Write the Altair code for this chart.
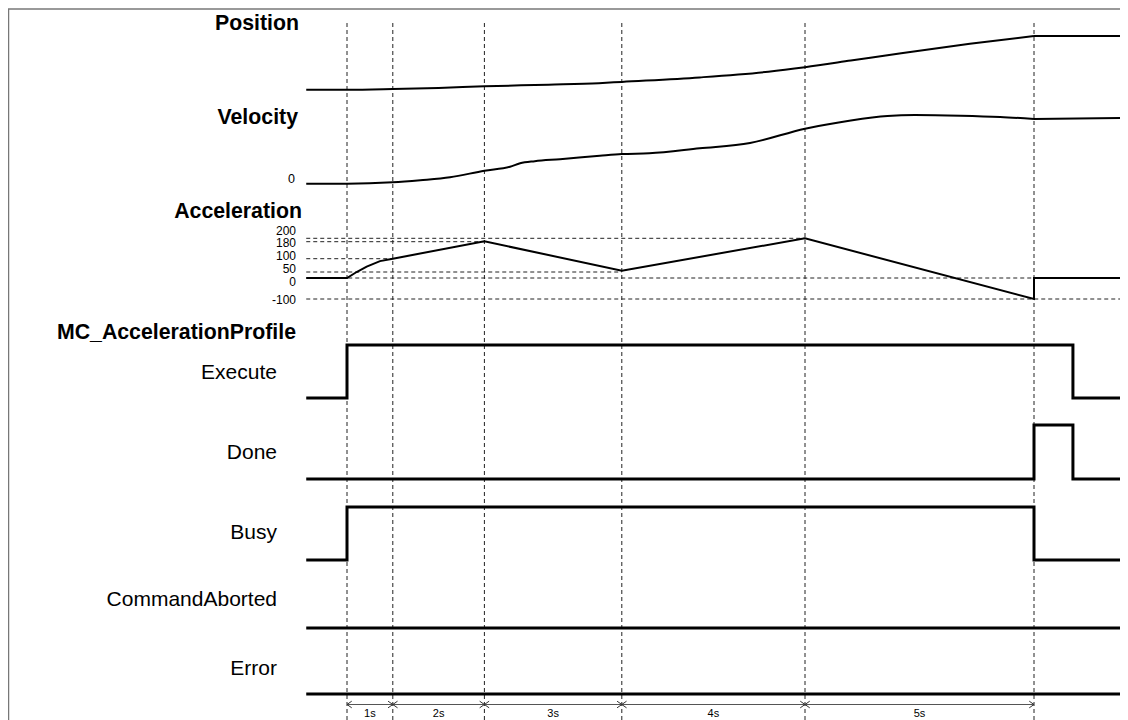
import altair as alt
import pandas as pd

# ---------------- data ----------------
T_START = -0.89
T_END = 17.05

time_marks = [0, 1, 3, 6, 10, 15]
interval_labels = ["1s", "2s", "3s", "4s", "5s"]

pos_t = [T_START, 0, 1.0, 2.0, 3.0, 4.4, 5.5, 6.0, 7.7, 9.2, 10.0, 11.0, 12.1, 13.6, 15.0, T_END]
pos_v = [0, 0, 0.7, 1.8, 3.4, 5.0, 6.5, 7.8, 12.3, 18.0, 22.5, 29.1, 36.5, 45.9, 53.7, 53.7]

vel_t = [T_START, 0, 1.0, 1.6, 2.25, 3.0, 3.56, 3.78, 4.1, 4.65, 5.52, 6.0, 6.6, 7.7,
         8.8, 10.0, 11.0, 11.8, 12.4, 13.4, 14.26, 15.0, T_END]
vel_v = [0, 0, 1.4, 3.5, 6.4, 13, 17, 20.4, 22.5, 24.5, 28, 29.7, 30.4, 35.4,
         40.7, 55, 63.2, 67.7, 68.7, 68, 66.7, 64.7, 65.7]

acc_t = [T_START, 0, 0.21, 0.43, 0.72, 1, 3, 6, 10, 15, 15, T_END]
acc_v = [0, 0, 50, 70, 91, 100, 182, 55, 200, -100, 0, 0]

acc_ticks = [200, 180, 100, 50, 0, -100]
acc_tick_end = [10, 3, 1, 6, T_END, T_END]

signal_names = ["Execute", "Done", "Busy", "CommandAborted", "Error"]
exec_t, exec_v = [T_START, 0, 15.85, T_END], [0, 1, 0, 0]
done_t, done_v = [T_START, 15, 15.85, T_END], [0, 1, 0, 0]
busy_t, busy_v = [T_START, 0, 15, T_END], [0, 1, 0, 0]
abort_t, abort_v = [T_START, T_END], [0, 0]
error_t, error_v = [T_START, T_END], [0, 0]

section_titles = ["Position", "Velocity", "Acceleration", "MC_AccelerationProfile"]

# ---------------- layout / style ----------------
FONT = "Liberation Sans"
W, H = 1112, 712
XS = alt.Scale(domain=[0, 15], range=[339, 1026], nice=False, zero=False)
DASH = [4, 3]
T_DONE = 15  # end of the motion: curves turn flat here

def X(field="t"):
    return alt.X(f"{field}:Q", scale=XS, axis=None)

def line_layer(df, domain, rng, width, interp="linear"):
    return alt.Chart(df).mark_line(color="black", strokeWidth=width, interpolate=interp,
                                   strokeJoin="miter", strokeCap="butt").encode(
        x=X(),
        y=alt.Y("v:Q", scale=alt.Scale(domain=domain, range=rng, nice=False, zero=False), axis=None),
        order=alt.Order("i:Q"),
    )

def series(ts, vs):
    return pd.DataFrame({"t": ts, "v": vs, "i": list(range(len(ts)))})

def smooth_layers(ts, vs, domain, rng, width):
    df = series(ts, vs)
    moving = df[df.t <= T_DONE]
    after = df[df.t >= T_DONE]
    return [line_layer(moving, domain, rng, width, interp="monotone"),
            line_layer(after, domain, rng, width)]

def text_layer(txt, x, y, size, bold=False, align="right", baseline="middle"):
    return alt.Chart(pd.DataFrame({"label": [txt]})).mark_text(
        font=FONT, fontSize=size, fontWeight="bold" if bold else "normal",
        align=align, baseline=baseline, color="black",
    ).encode(text="label:N", x=alt.value(x), y=alt.value(y))

layers = []

# frame (top and left edges only, as in the original)
frame = pd.DataFrame({"k": [0]})
layers.append(alt.Chart(frame).mark_rule(color="#777", strokeWidth=1.5).encode(
    x=alt.value(0), x2=alt.value(W), y=alt.value(1)))
layers.append(alt.Chart(frame).mark_rule(color="#777", strokeWidth=1.5).encode(
    x=alt.value(0.5), y=alt.value(1), y2=alt.value(H)))

# vertical dashed time markers
layers.append(
    alt.Chart(pd.DataFrame({"t": time_marks})).mark_rule(
        color="#222", strokeWidth=1, strokeDash=DASH).encode(
        x=X(), y=alt.value(15), y2=alt.value(H))
)

# acceleration dashed reference levels
ACC_DOMAIN = [-100, 0, 50, 100, 180, 200]
ACC_RANGE = [291, 270, 264, 250.7, 233.7, 230.3]
layers.append(
    alt.Chart(pd.DataFrame({"lvl": acc_ticks, "t0": [T_START] * len(acc_ticks), "t1": acc_tick_end}))
    .mark_rule(color="#222", strokeWidth=1, strokeDash=DASH)
    .encode(
        x=X("t0"), x2=alt.X2("t1:Q"),
        y=alt.Y("lvl:Q", scale=alt.Scale(domain=ACC_DOMAIN, range=ACC_RANGE, nice=False, zero=False), axis=None),
    )
)

# analog curves
layers += smooth_layers(pos_t, pos_v, [0, 54], [81.7, 27.7], 2)
layers += smooth_layers(vel_t, vel_v, [0, 70], [175.7, 105.7], 2)
layers.append(line_layer(series(acc_t, acc_v), ACC_DOMAIN, ACC_RANGE, 2))

# digital signals
lanes = {
    "Execute": (exec_t, exec_v, [390, 337]),
    "Done": (done_t, done_v, [471, 417]),
    "Busy": (busy_t, busy_v, [552, 499]),
    "CommandAborted": (abort_t, abort_v, [620, 567]),
    "Error": (error_t, error_v, [686, 633]),
}
for name in signal_names:
    ts, vs, rng = lanes[name]
    layers.append(line_layer(series(ts, vs), [0, 1], rng, 3, interp="step-after"))

# interval arrows at the bottom
ARROW_Y = 696.5
iv = pd.DataFrame({"t0": time_marks[:-1], "t1": time_marks[1:], "label": interval_labels})
layers.append(
    alt.Chart(iv).mark_rule(color="#555", strokeWidth=1).encode(
        x=X("t0"), x2=alt.X2("t1:Q"), y=alt.value(ARROW_Y))
)
layers.append(
    alt.Chart(pd.DataFrame({"t": time_marks[:-1]})).mark_point(
        shape="M0,0L1,-0.7M0,0L1,0.7", filled=False, color="#333", strokeWidth=1, size=90, opacity=1).encode(
        x=X(), y=alt.value(ARROW_Y))
)
layers.append(
    alt.Chart(pd.DataFrame({"t": time_marks[1:]})).mark_point(
        shape="M0,0L-1,-0.7M0,0L-1,0.7", filled=False, color="#333", strokeWidth=1, size=90, opacity=1).encode(
        x=X(), y=alt.value(ARROW_Y))
)
layers.append(
    alt.Chart(iv).transform_calculate(mid="(datum.t0 + datum.t1) / 2").mark_text(
        font=FONT, fontSize=11, align="center", baseline="top", color="black").encode(
        x=X("mid"), y=alt.value(700), text="label:N")
)

# section titles (bold)
title_pos = {"Position": (291, 16), "Velocity": (290, 110), "Acceleration": (294, 204),
             "MC_AccelerationProfile": (288, 325)}
for name in section_titles:
    x, y = title_pos[name]
    layers.append(text_layer(name, x, y, 21.3, bold=True))

# signal names
signal_label_y = {"Execute": 365, "Done": 445, "Busy": 525, "CommandAborted": 592, "Error": 661}
for name in signal_names:
    layers.append(text_layer(name, 269, signal_label_y[name], 21))

# velocity zero label
layers.append(text_layer("0", 287, 171, 12.5))

# acceleration tick labels (crowded, offset as in the original)
acc_label_y = [223, 235, 248, 261, 274, 292]
for lv, y in zip(acc_ticks, acc_label_y):
    layers.append(text_layer(str(lv), 288, y, 12))

chart = (
    alt.layer(*layers)
    .resolve_scale(y="independent")
    .properties(width=W, height=H, padding=0,
                autosize=alt.AutoSizeParams(type="none"), background="white")
    .configure_view(strokeWidth=0)
)

chart.save("out.html", embed_options={"renderer": "svg", "actions": False})
